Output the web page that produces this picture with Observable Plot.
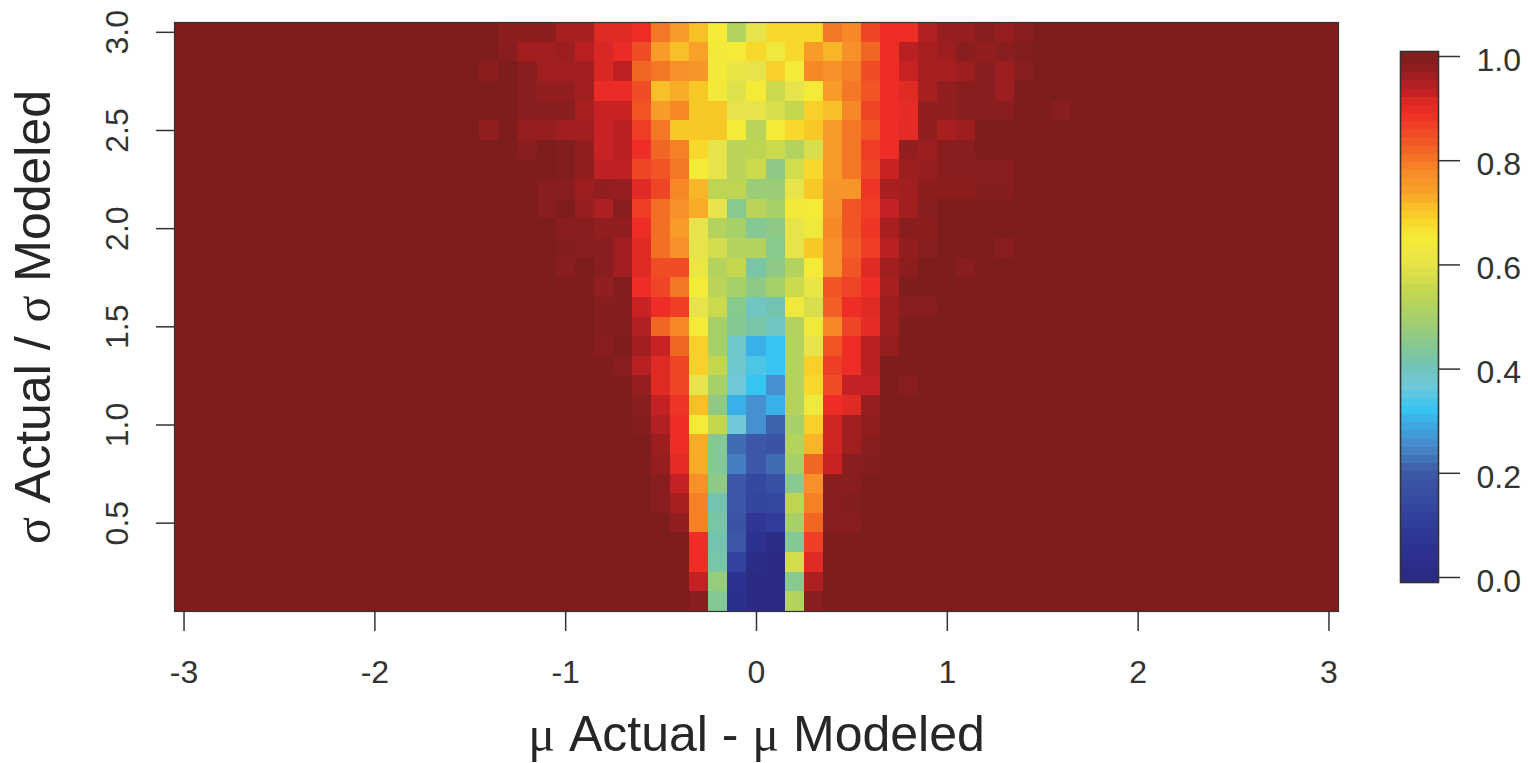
<!DOCTYPE html>
<html><head><meta charset="utf-8">
<script src="https://cdn.jsdelivr.net/npm/d3@7"></script>
<script src="https://cdn.jsdelivr.net/npm/@observablehq/plot@0.6"></script>
<style>html,body{margin:0;padding:0;background:#fff}#wrap{position:relative;width:1528px;height:763px;overflow:hidden}#wrap svg{position:absolute;left:0;top:0;max-width:none;overflow:visible}</style>
</head><body><div id="wrap"></div>
<script>
const muTicks=[-3,-2,-1,0,1,2,3];
const sigmaTicks=[0.5,1,1.5,2,2.5,3];
const legendTicks=[0,0.2,0.4,0.6,0.8,1];
const muValues=d3.range(-30,31).map(d=>d/10);
const sigmaValues=[3.0,2.9,2.8,2.7,2.6,2.5,2.4,2.3,2.2,2.1,2.0,1.9,1.8,1.7,1.6,1.5,1.4,1.3,1.2,1.1,1.0,0.9,0.8,0.7,0.6,0.5,0.4,0.3,0.2,0.1];
const colorStops=[0,0.05,0.12,0.2,0.25,0.3,0.32,0.37,0.41,0.45,0.5,0.55,0.6,0.65,0.68,0.71,0.74,0.77,0.81,0.85,0.89,0.91,0.925,0.94,0.955,0.97,0.985,1];
const colorValues=["#2a2a80","#2d3190","#33429c","#3c5aa6","#4888c8","#3ab0e8","#36c4f0","#70c8d8","#72c4b0","#88c98c","#a8d068","#c4d64e","#e6e44a","#f5ea35","#f8d82a","#f8c026","#f8a028","#f79028","#f36f24","#f04c26","#ee2d26","#e02a24","#c82224","#b82022","#a81f20","#961e1f","#8a1e1e","#7e1e1c"];
// columns mu = -1.5 ... 1.6, everything beyond is 1.0
const firstCol=-15;
const s30=[1,1,.98,.98,.98,.955,.955,.91,.91,.89,.8,.75,.71,.65,.52,.6,.68,.68,.68,.8,.78,.86,.89,.89,.945,.97,.97,.985,.97,.985,1,1];
const s29=[1,1,.985,.96,.96,.965,.94,.915,.895,.85,.75,.71,.74,.64,.65,.68,.63,.68,.75,.72,.77,.82,.89,.94,.955,.965,.985,.975,.985,.995,1,1];
const s28=[1,.98,1,.985,.96,.96,.96,.915,.935,.82,.8,.77,.76,.64,.61,.6,.69,.65,.78,.77,.79,.85,.89,.925,.955,.955,.965,.985,.965,.985,1,1];
const s27=[1,1,1,.985,.975,.975,.96,.895,.895,.85,.71,.73,.7,.64,.59,.65,.56,.6,.65,.75,.8,.84,.89,.91,.955,.975,.985,.985,.965,1,1,1];
const s26=[1,1,1,.985,.985,.985,.955,.925,.925,.84,.75,.78,.7,.7,.6,.6,.58,.55,.69,.71,.78,.86,.89,.9,.975,.975,.985,.985,.985,1,1,.985];
const s25=[1,.975,1,.97,.97,.96,.96,.925,.94,.87,.8,.7,.7,.7,.65,.53,.65,.68,.7,.75,.8,.84,.89,.905,.975,.955,.965,1,1,1,1,1];
const s24=[1,1,1,.985,1,.995,.975,.925,.94,.89,.82,.79,.68,.6,.53,.54,.56,.52,.58,.75,.8,.87,.89,.975,.965,.985,.985,1,1,1,1,1];
const s23=[1,1,1,1,1,.995,.975,.935,.935,.86,.84,.8,.65,.6,.53,.56,.46,.57,.68,.75,.8,.86,.925,.965,.97,.985,.985,.985,.985,1,1,1];
const s22=[1,1,1,1,.985,.985,.965,.975,.97,.91,.86,.78,.72,.54,.54,.48,.48,.6,.7,.76,.76,.88,.955,.96,.98,.98,.98,.99,.99,1,1,1];
const s21=[1,1,1,1,.985,1,.97,.95,.985,.87,.81,.77,.73,.6,.45,.53,.5,.64,.65,.77,.84,.87,.93,.96,.985,1,1,1,1,1,1,1];
const s20=[1,1,1,1,1,.985,.985,.975,.975,.89,.81,.75,.6,.52,.5,.44,.46,.6,.63,.78,.84,.88,.955,.985,.98,1,1,1,1,1,1,1];
const s19=[1,1,1,1,1,.995,.985,.985,.96,.91,.81,.77,.6,.57,.52,.52,.45,.6,.7,.77,.83,.87,.94,.975,.985,1,1,1,.985,1,1,1];
const s18=[1,1,1,1,1,.985,1,.985,.96,.91,.85,.85,.62,.52,.55,.42,.46,.52,.65,.77,.84,.91,.96,.98,1,1,.985,1,1,1,1,1];
const s17=[1,1,1,1,1,1,1,.975,.995,.89,.86,.8,.65,.53,.5,.46,.5,.56,.61,.84,.86,.89,.955,1,1,1,1,1,1,1,1,1];
const s16=[1,1,1,1,1,1,1,.99,.99,.925,.89,.87,.6,.56,.45,.39,.41,.63,.58,.83,.89,.91,.965,.985,.985,1,1,1,1,1,1,1];
const s15=[1,1,1,1,1,1,1,.99,.99,.945,.82,.78,.65,.5,.44,.42,.39,.52,.63,.78,.86,.905,.965,1,1,1,1,1,1,1,1,1];
const s14=[1,1,1,1,1,1,1,.985,1,.96,.925,.82,.69,.5,.38,.3,.32,.52,.6,.84,.89,.94,.97,1,1,1,1,1,1,1,1,1];
const s13=[1,1,1,1,1,1,1,1,.985,.94,.91,.86,.69,.55,.38,.34,.32,.52,.69,.87,.89,.94,1,1,1,1,1,1,1,1,1,1];
const s12=[1,1,1,1,1,1,1,1,1,.97,.91,.86,.6,.5,.37,.32,.26,.52,.68,.85,.93,.93,1,.985,1,1,1,1,1,1,1,1];
const s11=[1,1,1,1,1,1,1,1,1,.985,.93,.88,.71,.46,.3,.26,.3,.52,.63,.89,.91,.97,1,1,1,1,1,1,1,1,1,1];
const s10=[1,1,1,1,1,1,1,1,1,.99,.945,.89,.65,.55,.37,.26,.21,.5,.69,.92,.96,.975,1,1,1,1,1,1,1,1,1,1];
const s09=[1,1,1,1,1,1,1,1,1,1,.965,.89,.73,.44,.22,.19,.18,.52,.72,.92,.96,.985,1,1,1,1,1,1,1,1,1,1];
const s08=[1,1,1,1,1,1,1,1,1,1,.97,.905,.73,.44,.24,.19,.22,.5,.82,.925,.985,.99,1,1,1,1,1,1,1,1,1,1];
const s07=[1,1,1,1,1,1,1,1,1,1,.985,.93,.77,.46,.19,.14,.17,.45,.77,.985,.985,1,1,1,1,1,1,1,1,1,1,1];
const s06=[1,1,1,1,1,1,1,1,1,1,.985,.955,.79,.41,.19,.13,.14,.54,.79,.985,.995,1,1,1,1,1,1,1,1,1,1,1];
const s05=[1,1,1,1,1,1,1,1,1,1,1,.975,.79,.42,.18,.07,.1,.5,.82,.985,.985,1,1,1,1,1,1,1,1,1,1,1];
const s04=[1,1,1,1,1,1,1,1,1,1,1,1,.89,.41,.19,.05,.02,.44,.87,1,1,1,1,1,1,1,1,1,1,1,1,1];
const s03=[1,1,1,1,1,1,1,1,1,1,1,1,.89,.42,.12,.02,.01,.57,.91,1,1,1,1,1,1,1,1,1,1,1,1,1];
const s02=[1,1,1,1,1,1,1,1,1,1,1,1,.93,.47,.05,.01,.01,.45,.95,1,1,1,1,1,1,1,1,1,1,1,1,1];
const s01=[1,1,1,1,1,1,1,1,1,1,1,1,.985,.44,.04,.01,.01,.52,.985,1,1,1,1,1,1,1,1,1,1,1,1,1];
const rows=[s30,s29,s28,s27,s26,s25,s24,s23,s22,s21,s20,s19,s18,s17,s16,s15,s14,s13,s12,s11,s10,s09,s08,s07,s06,s05,s04,s03,s02,s01];

const cells=rows.flatMap((row,ri)=>muValues.map(mu=>{
  const k=Math.round(mu*10)-firstCol;
  return {mu,sigma:sigmaValues[ri],v:k>=0&&k<row.length?row[k]:1};
}));
const colorScale={type:"linear",domain:colorStops,range:colorValues,clamp:true};
const font='"Liberation Sans",Arial,sans-serif';
const tickFont=32, titleFont=50;

const main=Plot.plot({
  width:1528,height:763,marginLeft:174,marginRight:190,marginTop:22,marginBottom:152,
  style:{fontFamily:font,color:"#333",background:"transparent"},
  x:{domain:[-3.05,3.05]},y:{domain:[0.05,3.05]},color:colorScale,
  marks:[
    Plot.rect(cells,{x1:d=>d.mu-0.05,x2:d=>d.mu+0.05,y1:d=>d.sigma-0.05,y2:d=>d.sigma+0.05,fill:"v",shapeRendering:"crispEdges"}),
    Plot.frame({stroke:"#333",strokeWidth:1.2}),
    Plot.axisX({ticks:muTicks,tickFormat:d=>String(d),tickSize:20,tickPadding:29,fontSize:tickFont,stroke:"#333",strokeWidth:1.5,label:"μ Actual - μ Modeled",labelAnchor:"center",labelArrow:"none",labelOffset:139}),
    Plot.axisY({ticks:sigmaTicks,tickFormat:d3.format(".1f"),tickSize:18,tickPadding:29,tickRotate:-90,fontSize:tickFont,stroke:"#333",strokeWidth:1.5,label:"σ Actual / σ Modeled",labelAnchor:"center",labelArrow:"none",labelOffset:160})
  ]
});
function styleTitle(selector,greek){
  main.querySelectorAll(selector+" text").forEach(t=>{
    t.style.fontSize=titleFont+"px";
    t.style.fill="#262626";
    const parts=t.textContent.split(greek);
    t.textContent="";
    parts.forEach((p,i)=>{
      if(i>0){const g=document.createElementNS("http://www.w3.org/2000/svg","tspan");g.setAttribute("font-family",'"Liberation Serif",serif');g.textContent=greek;t.appendChild(g);}
      t.appendChild(document.createTextNode(p));
    });
  });
}
styleTitle('[aria-label="x-axis label"]',"μ");
styleTitle('[aria-label="y-axis label"]',"σ");
document.getElementById("wrap").appendChild(main);

const bandSize=1/64;
const bands=d3.range(64).map(i=>({lo:i===0?-0.0096:i*bandSize,hi:i===63?1.0096:(i+1)*bandSize,v:(i+0.5)*bandSize}));
const legend=Plot.plot({
  width:1528,height:763,marginLeft:1400,marginRight:90,marginTop:51,marginBottom:181,
  style:{fontFamily:font,color:"#333",background:"transparent"},
  x:{domain:[0,1],axis:null},y:{domain:[-0.0096,1.0096]},color:colorScale,
  marks:[
    Plot.rect(bands,{x1:0,x2:1,y1:"lo",y2:"hi",fill:"v",shapeRendering:"crispEdges"}),
    Plot.frame({stroke:"#333",strokeWidth:1.6}),
    Plot.axisY({anchor:"right",ticks:legendTicks,tickFormat:()=>"",tickSize:21,stroke:"#333",strokeWidth:1.5,label:null}),
    Plot.axisY({anchor:"right",ticks:legendTicks,tickFormat:d3.format(".1f"),tickSize:0,tickPadding:38,dy:4,fontSize:tickFont,label:null})
  ]
});
document.getElementById("wrap").appendChild(legend);
</script></body></html>
